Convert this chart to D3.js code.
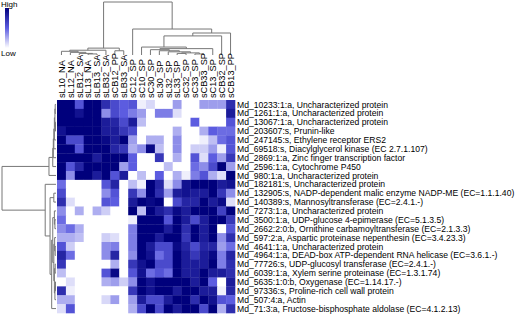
<!DOCTYPE html>
<html>
<head>
<meta charset="utf-8">
<script src="https://cdn.jsdelivr.net/npm/d3@7"></script>
<style>
  body { margin: 0; background: #fff; }
  text { font-family: Arial, "Liberation Sans", sans-serif; fill: #000; }
</style>
</head>
<body>
<div id="chart"></div>
<script>
// samples (columns), already in dendrogram order
const colLabels = ["sL10_NA", "sL12_NA", "sLB12_SA", "sL13_NA", "sLB13_SA", "sLB32_SA", "sCB12_PP", "sLB33_SA",
    "sC12_SP", "sC10_SP", "sC30_SP", "sL30_SP", "sL32_SP", "sL33_SP", "sC32_SP", "sC33_SP", "sCB33_SP",
    "sC13_SP", "sCB32_SP", "sCB13_PP"];

// genes (rows)
const rowLabels = [
    "Md_10233:1:a, Uncharacterized protein",
    "Md_1261:1:a, Uncharacterized protein",
    "Md_13067:1:a, Uncharacterized protein",
    "Md_203607:s, Prunin-like",
    "Md_247145:s, Ethylene receptor ERS2",
    "Md_69518:s, Diacylglycerol kinase (EC 2.7.1.107)",
    "Md_2869:1:a, Zinc finger transcription factor",
    "Md_2596:1:a, Cytochrome P450",
    "Md_980:1:a, Uncharacterized protein",
    "Md_182181:s, Uncharacterized protein",
    "Md_132905:s, NADP-dependent malic enzyme NADP-ME (EC=1.1.1.40)",
    "Md_140389:s, Mannosyltransferase (EC=2.4.1.-)",
    "Md_7273:1:a, Uncharacterized protein",
    "Md_3500:1:a, UDP-glucose 4-epimerase (EC=5.1.3.5)",
    "Md_2662:2:0:b, Ornithine carbamoyltransferase (EC=2.1.3.3)",
    "Md_597:2:a, Aspartic proteinase nepenthesin (EC=3.4.23.3)",
    "Md_4641:1:a, Uncharacterized protein",
    "Md_4964:1:a, DEAD-box ATP-dependent RNA helicase (EC=3.6.1.-)",
    "Md_77726:s, UDP-glucosyl transferase (EC=2.4.1.-)",
    "Md_6039:1:a, Xylem serine proteinase (EC=1.3.1.74)",
    "Md_5635:1:0:b, Oxygenase (EC=1.14.17.-)",
    "Md_97336:s, Proline-rich cell wall protein",
    "Md_507:4:a, Actin",
    "Md_71:3:a, Fructose-bisphosphate aldolase (EC=4.1.2.13)"
];

// scaled expression, 0 = low (white), 1 = high (navy)
const values = [
    [1, 1, .55, 1, 1, .75, .6, .5, .55, .05, .12, 0, 0, .3, 0, 0, .3, .3, .3, .75],
    [1, 1, .9, 1, 1, .35, .6, .5, .4, .3, 0, .4, .4, .1, 0, 0, 0, 0, 0, .85],
    [1, 1, 1, 1, 1, .85, .8, .6, .85, .2, 0, 0, 0, 0, 0, .5, 0, 0, 0, .55],
    [.9, 1, 1, 1, 1, .85, .85, .7, .6, 0, 0, 0, 0, .25, 0, 0, .25, .5, .45, .45],
    [1, .6, .6, 1, 1, .95, .85, 1, .3, 0, .25, .25, 0, .35, 0, 0, .05, .2, .45, .55],
    [1, 1, .55, 1, 1, 1, .8, .7, .25, .35, .95, .2, 0, .35, 0, .15, .15, .3, .05, .55],
    [1, 1, 1, 1, .85, 1, 1, 1, .5, 0, 0, .7, 0, .25, 0, .55, .1, .5, .3, .7],
    [1, .55, .8, 1, 1, 1, 1, .3, .5, 0, 0, 0, .2, 0, 0, .45, .35, .6, 1, .3],
    [1, .35, 1, 1, .85, 1, .55, .85, 0, .2, 0, .5, 0, .25, .05, .4, .55, .25, .1, 1],
    [.45, 0, 0, 0, 0, .55, .8, 0, .2, .05, 1, .8, .1, .35, .9, 1, 1, 1, .85, .9],
    [.6, 0, 0, 0, 0, .35, .55, 0, .7, .35, 1, .75, .3, .85, .9, .85, .85, 1, .7, .35],
    [.75, .1, 0, 0, 0, .55, .5, 0, .85, 1, .95, 1, 0, .6, .8, .8, 1, .85, .95, .1],
    [.35, 0, .25, 0, .25, .15, 0, 0, 1, .2, 1, .85, .75, .95, .85, 1, 1, 1, .65, 1],
    [.45, 0, 0, 0, 0, 0, 0, 0, .05, 1, 1, 1, .55, 1, .85, .6, .85, 1, 1, .7],
    [.35, .45, .25, 0, 0, 0, 0, 0, .4, 1, 1, 1, .85, 1, .75, 1, .85, 1, 0, .55],
    [.25, .25, .2, 0, 0, .15, .1, 0, .4, 1, 1, .85, 1, 1, .7, 1, .85, 1, .35, .75],
    [.55, .15, 0, 0, 0, .35, .4, 0, .4, 1, .85, .6, .6, .95, .8, .6, .8, .8, .3, .45],
    [.8, .45, 0, 0, 0, .35, .8, 0, .35, 1, .9, .45, .6, 1, .85, .7, .85, .95, .4, .8],
    [.7, 0, 0, 0, 0, 0, .25, 0, .7, .9, 1, .6, .6, 1, .85, .85, .85, 1, .4, .75],
    [.2, 0, 0, 0, 0, .55, .95, 0, .55, .9, .45, .55, .45, 1, .85, .85, 1, .85, .85, .75],
    [0, .1, 0, 0, 0, .25, .3, .15, .35, 1, .9, 1, 1, 1, 1, .85, 1, .5, 0, .85],
    [.75, .05, 0, 0, 0, 0, 0, 0, .7, 1, .9, 1, 1, .85, 1, 1, .85, .85, .05, .8],
    [.25, .25, 0, 0, 0, .12, .3, 0, .3, .85, .6, .6, .85, 1, 1, .75, 1, .9, .55, .5],
    [.1, .55, 0, 0, 0, 0, 0, 0, .25, .6, 1, .6, 1, .85, 1, 1, .6, 1, .25, .75]
];

// dendrograms: [left, right, height], leaves are indices
const colTree = [
    [[[0, [1, [2, [3, 4, 2], 3], 5], 7], 5, 9], [6, 7, 8], 13],
    [8, [[[9, [[10, [11, [12, [[13, 14, 3], [15, 16, 2], 4], 6], 8], 10], 17, 12], 15], 18, 36], 19, 41.5], 49],
    100
];
const rowTree = [
    [[[[[[[0, 1, 1.5], [2, 3, 1], 2], 4, 3], 5, 4], 6, 5], 7, 6], 8, 13],
    [9, [[10, 11, 4],
        [[[12, [13, 14, 2], 3], [[15, [16, 17, 1.5], 2.5], [[18, 19, 1.5], [[20, 21, 1], 22, 2], 3], 4], 6], 23, 8],
        11], 20],
    100
];

const keyLabels = ["High", "Low"];

const width = 520, height = 316;
const svg = d3.select("#chart").append("svg")
    .attr("width", width)
    .attr("height", height);

// scales
let x = d3.scaleBand().domain(d3.range(colLabels.length)).range([57, 235]);
let y = d3.scaleBand().domain(d3.range(rowLabels.length)).range([100, 313]);
let color = d3.scaleLinear().domain([0, 0.5, 1]).range(["#ffffff", "#5c5ce0", "#00007c"]);
let colH = d3.scaleLinear().domain([0, 100]).range([55, 2]);
let rowH = d3.scaleLinear().domain([0, 100]).range([56, 2]);

// heatmap cells
values.forEach(function(row, i) {
    svg.append("g").selectAll("rect")
        .data(row)
        .enter()
        .append("rect")
        .attr("x", (d, j) => x(j))
        .attr("y", y(i))
        .attr("width", x.bandwidth() + 0.3)
        .attr("height", y.bandwidth() + 0.3)
        .attr("fill", d => color(d));
});

// lay out a tree: position of leaf from band scale, node at midpoint of children
function layout(node, pos) {
    if (typeof node === "number") return { pos: pos(node), h: 0, leaf: true };
    let a = layout(node[0], pos), b = layout(node[1], pos);
    return { pos: (a.pos + b.pos) / 2, h: node[2], kids: [a, b] };
}

let dendro = svg.append("g")
    .attr("fill", "none")
    .attr("stroke", "#777")
    .attr("stroke-width", 1);

function drawCol(n) {
    if (!n.kids) return;
    let yy = colH(n.h);
    dendro.append("line").attr("x1", n.kids[0].pos).attr("x2", n.kids[1].pos).attr("y1", yy).attr("y2", yy);
    n.kids.forEach(function(k) {
        dendro.append("line").attr("x1", k.pos).attr("x2", k.pos).attr("y1", yy).attr("y2", colH(k.h));
        drawCol(k);
    });
}
function drawRow(n) {
    if (!n.kids) return;
    let xx = rowH(n.h);
    dendro.append("line").attr("y1", n.kids[0].pos).attr("y2", n.kids[1].pos).attr("x1", xx).attr("x2", xx);
    n.kids.forEach(function(k) {
        dendro.append("line").attr("y1", k.pos).attr("y2", k.pos).attr("x1", xx).attr("x2", rowH(k.h));
        drawRow(k);
    });
}
drawCol(layout(colTree, i => x(i) + x.bandwidth() / 2));
drawRow(layout(rowTree, i => y(i) + y.bandwidth() / 2));

// column labels (vertical)
svg.append("g").selectAll("text")
    .data(colLabels)
    .enter()
    .append("text")
    .attr("transform", (d, i) => "translate(" + (x(i) + x.bandwidth() / 2 + 3.3) + ",98) rotate(-90)")
    .attr("font-size", 9.2)
    .text(d => d);

// row labels
svg.append("g").selectAll("text")
    .data(rowLabels)
    .enter()
    .append("text")
    .attr("x", 237)
    .attr("y", (d, i) => y(i) + y.bandwidth() / 2 + 3.1)
    .attr("font-size", 8.6)
    .text(d => d);

// colour key
let grad = svg.append("defs").append("linearGradient")
    .attr("id", "key")
    .attr("x1", 0).attr("x2", 0).attr("y1", 0).attr("y2", 1);
grad.selectAll("stop")
    .data([1, 0.5, 0])
    .enter()
    .append("stop")
    .attr("offset", (d, i) => i / 2)
    .attr("stop-color", d => color(d));

svg.append("rect")
    .attr("x", 5).attr("y", 8)
    .attr("width", 4).attr("height", 40)
    .attr("fill", "url(#key)");

svg.append("text").attr("x", 1).attr("y", 7).attr("font-size", 8).text(keyLabels[0]);
svg.append("text").attr("x", 1).attr("y", 56).attr("font-size", 8).text(keyLabels[1]);
</script>
</body>
</html>
